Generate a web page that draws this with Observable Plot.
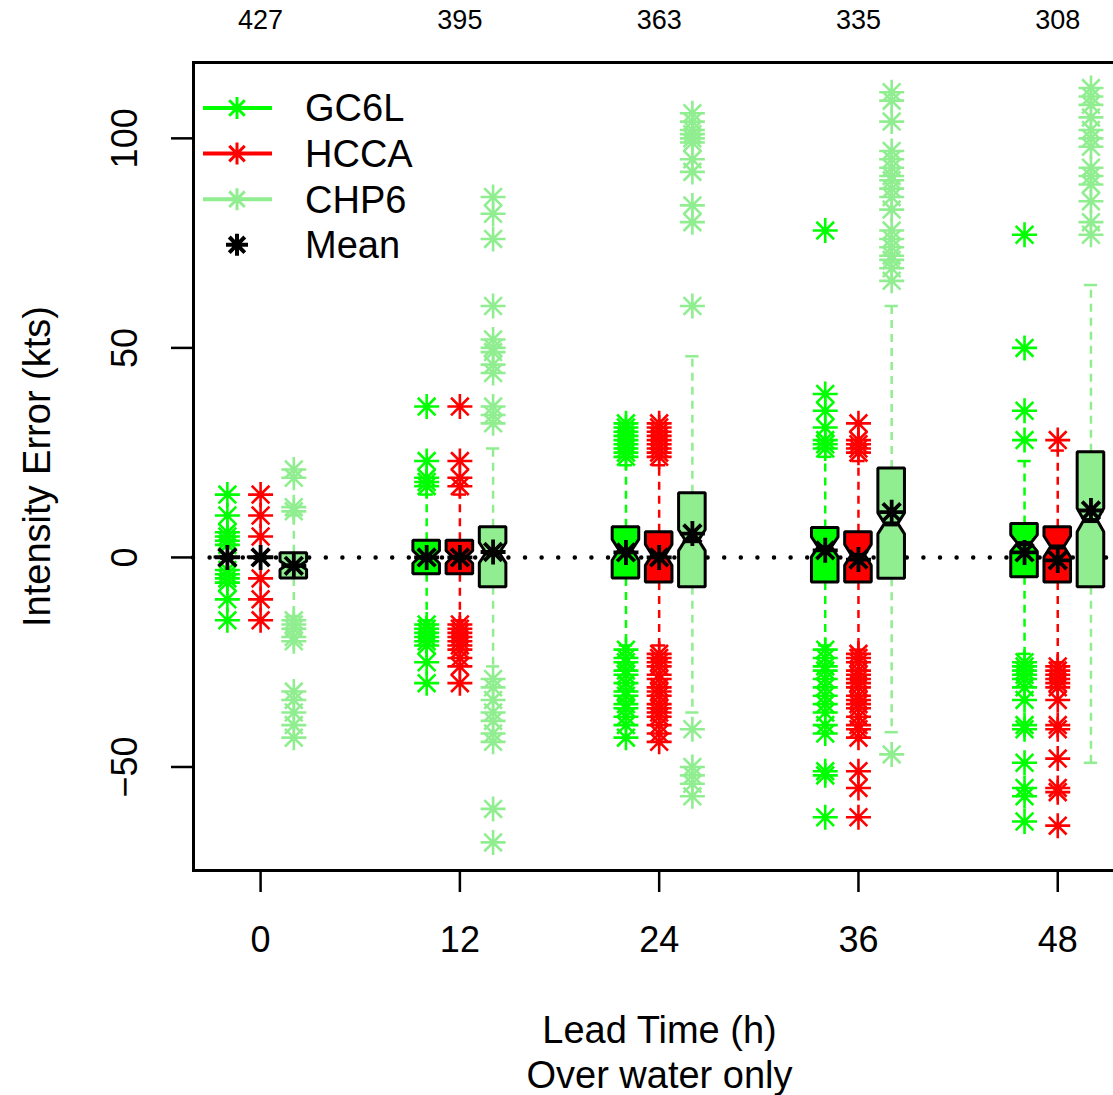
<!DOCTYPE html>
<html><head><meta charset="utf-8">
<script src="https://cdn.jsdelivr.net/npm/d3@7"></script>
<script src="https://cdn.jsdelivr.net/npm/@observablehq/plot@0.6"></script>
<style>
body{margin:0;background:#fff;}
#wrap{width:1113px;height:1095px;overflow:hidden;position:relative;background:#fff;}
</style></head><body><div id="wrap"></div>
<script>
// ---- data ----
const leads = [0, 12, 24, 36, 48];
const counts = [427, 395, 363, 335, 308];
const yTicks = [-50, 0, 50, 100];
const modelNames = ["GC6L", "HCCA", "CHP6"];
const modelColors = ["#00ff00", "#ff0000", "#90ee90"];

// per lead: [lower whisker, Q1, median, Q3, upper whisker]
const gc6lStats = [[0,0,0,0,0],[-15,-4,0,4,15],[-21,-5,1.7,7.2,22],[-21,-6,2.4,7,24],[-23,-4.7,3.3,8,23]];
const hccaStats = [[0,0,0,0,0],[-15,-4,0,4,15],[-21,-6,0.5,6,22],[-22,-6,0.5,6,23],[-25,-6,2.5,7.2,25.5]];
const chp6Stats = [[-14,-5,-2,1,10],[-26,-7.1,1,7.2,26],[-37,-7.1,4,15.3,48],[-41.7,-5.1,8,21.2,60],[-49,-7.1,8.8,25.1,65]];
// notch half-heights (kts)
const gc6lNotch = [0, 1.5, 2.5, 2.4, 2];
const hccaNotch = [0, 1.5, 2.5, 2.5, 2.5];
const chp6Notch = [1, 2.4, 2.5, 2.5, 2.8];
// means
const gc6lMean = [0, 0, 1.2, 1.7, 1.2];
const hccaMean = [0, 0, 0, -0.5, -0.7];
const chp6Mean = [-2, 1.3, 5.7, 10.8, 11.2];
// outliers
const gc6lOut = [
  [15, 10, 6, 5, 4, 3, -3, -4, -5, -6, -10, -15],
  [36, 23, 19, 18, 17, -16, -17, -18, -19, -20, -21, -25, -30],
  [32, 31, 30, 29, 28, 27, 26, 25, 24, -22, -24, -25, -27, -28, -30, -32, -33, -35, -36, -38, -40, -43],
  [78, 39, 35, 31, 28, 27, 26, -22, -24, -26, -27, -29, -31, -33, -35, -37, -40, -42, -51, -52, -62],
  [77, 50, 35, 28, -25, -26, -27, -28, -29, -31, -34, -40, -41, -49, -55, -57, -63]
];
const hccaOut = [
  [15, 10, 5, -5, -10, -15],
  [36, 23, 19, 17, -16, -17, -18, -19, -20, -21, -22, -24, -26, -30],
  [32, 31, 30, 29, 28, 27, 26, 25, 24, -23, -24, -25, -26, -28, -29, -31, -32, -33, -35, -36, -37, -38, -40, -42, -44],
  [32, 28, 27, 26, 25, -23, -24, -25, -27, -28, -29, -30, -31, -33, -34, -35, -36, -38, -40, -41, -43, -51, -55, -62],
  [28, -26, -27, -28, -29, -30, -31, -34, -40, -41, -48, -55, -56, -64]
];
const chp6Out = [
  [21, 19, 12, 11, -15, -16, -17, -19, -20, -32, -34, -37, -40, -43],
  [86, 82, 76, 60, 52, 50, 49, 46, 44, 36, 34, 32, -29, -31, -34, -37, -39, -42, -44, -60, -68],
  [106, 104, 102, 101, 100, 99, 95, 92, 84, 80, 60, -41, -50, -52, -54, -57],
  [111, 109, 104, 97, 95, 93, 91, 90, 88, 86, 83, 78, 76, 74, 72, 71, 69, 66, -47],
  [112, 110, 108, 105, 102, 100, 98, 93, 91, 89, 85, 80, 77]
];

// ---- build tables ----
const FONT = "'Liberation Sans', Arial, Helvetica, sans-serif";
const shifts = [-2, 0, 2];
const statsAll = [gc6lStats, hccaStats, chp6Stats];
const notchAll = [gc6lNotch, hccaNotch, chp6Notch];
const meanAll = [gc6lMean, hccaMean, chp6Mean];
const outAll = [gc6lOut, hccaOut, chp6Out];
const HALF = 0.8, NARROW = 0.4;

const star8 = {
  draw(ctx, size) {
    const r = Math.sqrt(size / Math.PI), d = r / Math.SQRT2;
    ctx.moveTo(-r, 0); ctx.lineTo(r, 0);
    ctx.moveTo(0, -r); ctx.lineTo(0, r);
    ctx.moveTo(-d, -d); ctx.lineTo(d, d);
    ctx.moveTo(-d, d); ctx.lineTo(d, -d);
  }
};

const boxes = [], polys = [], outliers = [], means = [];
modelNames.forEach((name, m) => {
  leads.forEach((t, i) => {
    const [wlo, q1, med, q3, whi] = statsAll[m][i];
    const x = t + shifts[m];
    const id = name + "-" + t;
    const n = notchAll[m][i];
    boxes.push({model: name, x, wlo, q1, med, q3, whi});
    [[q1, HALF], [med - n, HALF], [med, NARROW], [med + n, HALF], [q3, HALF]]
      .forEach(([y, w]) => polys.push({model: name, id, y, x1: x - w, x2: x + w}));
    outAll[m][i].forEach(v => outliers.push({model: name, x, y: v}));
    means.push({model: name, x, y: meanAll[m][i]});
  });
});

const marks = [
  Plot.ruleY([0], {stroke: "black", strokeWidth: 4.5, strokeDasharray: "0,16.6", strokeLinecap: "round"})
];
modelNames.forEach((name, m) => {
  const col = modelColors[m];
  const b = boxes.filter(d => d.model === name);
  marks.push(
    Plot.ruleX(b, {x: "x", y1: "q3", y2: "whi", stroke: col, strokeWidth: 2.5, strokeDasharray: "8,6"}),
    Plot.ruleX(b, {x: "x", y1: "q1", y2: "wlo", stroke: col, strokeWidth: 2.5, strokeDasharray: "8,6"}),
    Plot.ruleY(b, {y: "whi", x1: d => d.x - NARROW, x2: d => d.x + NARROW, stroke: col, strokeWidth: 2.5}),
    Plot.ruleY(b, {y: "wlo", x1: d => d.x - NARROW, x2: d => d.x + NARROW, stroke: col, strokeWidth: 2.5}),
    Plot.areaX(polys.filter(d => d.model === name), {y: "y", x1: "x1", x2: "x2", z: "id", fill: col, stroke: "black", strokeWidth: 3, strokeLinejoin: "miter"}),
    Plot.ruleY(b, {y: "med", x1: d => d.x - NARROW, x2: d => d.x + NARROW, stroke: "black", strokeWidth: 5})
  );
});
modelNames.forEach((name, m) => {
  marks.push(Plot.dot(outliers.filter(d => d.model === name), {x: "x", y: "y", symbol: star8, r: 12.5, stroke: modelColors[m], strokeWidth: 2.6, fill: "none"}));
});
marks.push(
  Plot.dot(means, {x: "x", y: "y", symbol: star8, r: 12.5, stroke: "black", strokeWidth: 3.8, fill: "none"}),
  Plot.frame({stroke: "black", strokeWidth: 3}),
  Plot.axisX({ticks: leads, tickSize: 22, tickPadding: 34, fontSize: 36, label: null, strokeWidth: 2.5}),
  Plot.axisX({anchor: "top", ticks: leads, tickSize: 0, tickPadding: 34, fontSize: 27, label: null,
              tickFormat: d => String(counts[leads.indexOf(d)])}),
  Plot.axisY({ticks: yTicks, tickSize: 22, tickFormat: () => "", label: null, strokeWidth: 2.5}),
  Plot.text(yTicks, {y: d => d, text: d => d < 0 ? "\u2212" + (-d) : String(d), frameAnchor: "left", dx: -68, rotate: -90,
                     textAnchor: "middle", lineAnchor: "middle", fontSize: 36}),
  Plot.text(["Intensity Error (kts)"], {frameAnchor: "left", dx: -156, rotate: -90, textAnchor: "middle", lineAnchor: "middle", fontSize: 38}),
  Plot.text(["Lead Time (h)"], {frameAnchor: "bottom", dy: 160, textAnchor: "middle", lineAnchor: "middle", fontSize: 38}),
  Plot.text(["Over water only"], {frameAnchor: "bottom", dy: 205, textAnchor: "middle", lineAnchor: "middle", fontSize: 38})
);

const svg = Plot.plot({
  width: 1130,
  height: 1095,
  marginLeft: 193,
  marginRight: 5,
  marginTop: 62,
  marginBottom: 225,
  style: {fontFamily: FONT, maxWidth: "none", background: "white", overflow: "hidden"},
  x: {domain: [-4.04, 52.08]},
  y: {domain: [-74.7, 118.1]},
  marks
});

// legend (inside the plot area, top-left)
const lg = d3.select(svg).append("g").attr("font-family", FONT).attr("font-size", 38).attr("text-anchor", "start");
const legendRows = modelNames.map((n, i) => ({label: n, color: modelColors[i], line: true}))
  .concat([{label: "Mean", color: "black", line: false}]);
legendRows.forEach((row, i) => {
  const y = 108 + i * 45.6;
  const g = lg.append("g").attr("transform", `translate(0,${y})`);
  if (row.line) g.append("line").attr("x1", 203).attr("x2", 272).attr("stroke", row.color).attr("stroke-width", 4);
  const r = 11, d = r / Math.SQRT2;
  g.append("path").attr("transform", "translate(237,0)")
    .attr("d", `M${-r},0L${r},0M0,${-r}L0,${r}M${-d},${-d}L${d},${d}M${-d},${d}L${d},${-d}`)
    .attr("stroke", row.color).attr("stroke-width", row.line ? 3 : 4).attr("fill", "none");
  g.append("text").attr("x", 305).attr("dy", "0.35em").attr("text-anchor", "start").text(row.label);
});

document.getElementById("wrap").appendChild(svg);
</script></body></html>
